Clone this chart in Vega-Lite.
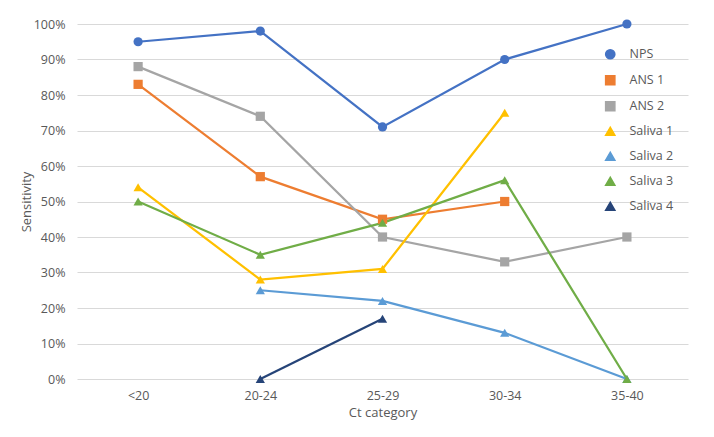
{
  "$schema": "https://vega.github.io/schema/vega-lite/v6.json",
  "width": 611,
  "height": 355,
  "autosize": "none",
  "padding": {"left": 77, "top": 24, "right": 26, "bottom": 58},
  "background": "white",
  "config": {
    "font": "Open Sans",
    "view": {"stroke": null},
    "axis": {"labelColor": "#595959", "titleColor": "#595959", "labelFontSize": 12.5, "titleFontSize": 13, "titleFontWeight": "normal", "domain": false, "ticks": false}
  },
  "data": {
    "values": [
      {"series": "NPS", "ct": "<20", "value": 95},
      {"series": "NPS", "ct": "20-24", "value": 98},
      {"series": "NPS", "ct": "25-29", "value": 71},
      {"series": "NPS", "ct": "30-34", "value": 90},
      {"series": "NPS", "ct": "35-40", "value": 100},
      {"series": "ANS 1", "ct": "<20", "value": 83},
      {"series": "ANS 1", "ct": "20-24", "value": 57},
      {"series": "ANS 1", "ct": "25-29", "value": 45},
      {"series": "ANS 1", "ct": "30-34", "value": 50},
      {"series": "ANS 2", "ct": "<20", "value": 88},
      {"series": "ANS 2", "ct": "20-24", "value": 74},
      {"series": "ANS 2", "ct": "25-29", "value": 40},
      {"series": "ANS 2", "ct": "30-34", "value": 33},
      {"series": "ANS 2", "ct": "35-40", "value": 40},
      {"series": "Saliva 1", "ct": "<20", "value": 54},
      {"series": "Saliva 1", "ct": "20-24", "value": 28},
      {"series": "Saliva 1", "ct": "25-29", "value": 31},
      {"series": "Saliva 1", "ct": "30-34", "value": 75},
      {"series": "Saliva 2", "ct": "20-24", "value": 25},
      {"series": "Saliva 2", "ct": "25-29", "value": 22},
      {"series": "Saliva 2", "ct": "30-34", "value": 13},
      {"series": "Saliva 2", "ct": "35-40", "value": 0},
      {"series": "Saliva 3", "ct": "<20", "value": 50},
      {"series": "Saliva 3", "ct": "20-24", "value": 35},
      {"series": "Saliva 3", "ct": "25-29", "value": 44},
      {"series": "Saliva 3", "ct": "30-34", "value": 56},
      {"series": "Saliva 3", "ct": "35-40", "value": 0},
      {"series": "Saliva 4", "ct": "20-24", "value": 0},
      {"series": "Saliva 4", "ct": "25-29", "value": 17}
    ]
  },
  "encoding": {
    "x": {
      "field": "ct", "type": "nominal", "sort": ["<20", "20-24", "25-29", "30-34", "35-40"],
      "scale": {"paddingInner": 0, "paddingOuter": 0},
      "axis": {"title": "Ct category", "labelAngle": 0, "labelPadding": 10, "titlePadding": 5, "grid": false}
    },
    "y": {
      "field": "value", "type": "quantitative",
      "scale": {"domain": [0, 100], "nice": false},
      "axis": {"title": "Sensitivity", "values": [0,10,20,30,40,50,60,70,80,90,100], "labelExpr": "datum.value + '%'", "labelPadding": 12, "titlePadding": 0, "gridColor": "#d9d9d9", "gridWidth": 1}
    },
    "color": {
      "field": "series", "type": "nominal",
      "scale": {
        "domain": ["NPS", "ANS 1", "ANS 2", "Saliva 1", "Saliva 2", "Saliva 3", "Saliva 4"],
        "range": ["#4472C4", "#ED7D31", "#A5A5A5", "#FFC000", "#5B9BD5", "#70AD47", "#264478"]
      },
      "legend": {
        "title": null, "orient": "none", "legendX": 527, "legendY": 24,
        "padding": 0, "symbolSize": 85, "labelOffset": 13, "rowPadding": 10,
        "labelFontSize": 12.5, "labelColor": "#595959", "labelFont": "Open Sans"
      }
    }
  },
  "layer": [
    {"mark": {"type": "line", "strokeWidth": 2.25}},
    {
      "mark": {"type": "point", "filled": true, "opacity": 1, "size": 85},
      "encoding": {
        "shape": {
          "field": "series", "type": "nominal",
          "scale": {
            "domain": ["NPS", "ANS 1", "ANS 2", "Saliva 1", "Saliva 2", "Saliva 3", "Saliva 4"],
            "range": ["circle", "square", "square", "triangle-up", "triangle-up", "triangle-up", "triangle-up"]
          },
          "legend": null
        }
      }
    }
  ]
}
